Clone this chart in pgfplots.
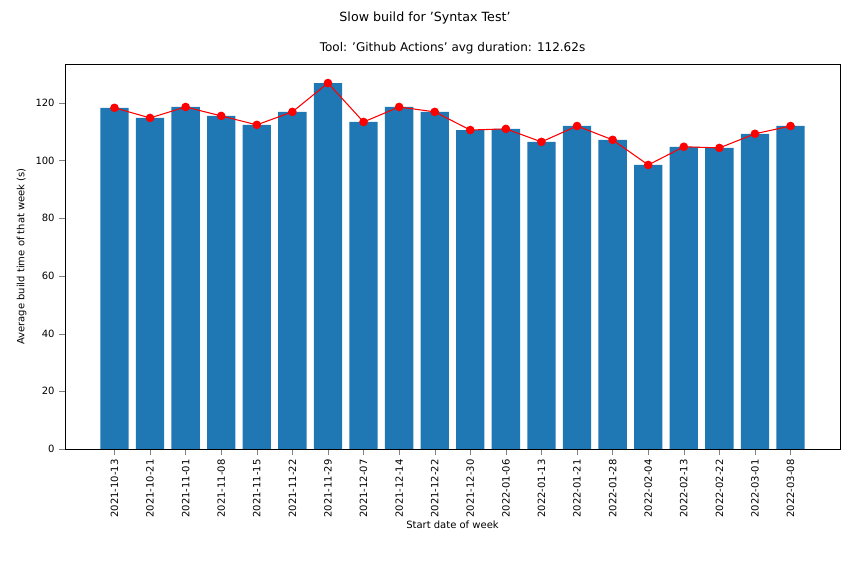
\documentclass[border=0pt]{standalone}
\usepackage{pgfplots}
\pgfplotsset{compat=1.18}
\usepackage{fontspec}
\setmainfont{DejaVu Sans}
\definecolor{mplblue}{HTML}{1F77B4}
\begin{document}
\begin{tikzpicture}
\path[use as bounding box] (-48.75pt,-86.25pt) rectangle (588.75pt,336.75pt);
\node[font=\fontsize{9.5}{11}\selectfont] at (270pt,323pt) {Slow build for 'Syntax Test'};
\begin{axis}[
  at={(0pt,0pt)}, anchor=south west,
  scale only axis, width=581.25pt, height=288.75pt,
  xmin=-1.39, xmax=20.39, ymin=0, ymax=133.5,
  xtick={0,...,19},
  xticklabels={2021-10-13,2021-10-21,2021-11-01,2021-11-08,2021-11-15,2021-11-22,2021-11-29,2021-12-07,2021-12-14,2021-12-22,2021-12-30,2022-01-06,2022-01-13,2022-01-21,2022-01-28,2022-02-04,2022-02-13,2022-02-22,2022-03-01,2022-03-08},
  x tick label style={rotate=90, anchor=east},
  ytick={0,20,...,120},
  tick label style={font=\fontsize{7.5}{9}\selectfont},
  label style={font=\fontsize{7.5}{9}\selectfont},
  /pgf/number format/assume math mode=true,
  title={Tool: 'Github Actions' avg duration: 112.62s},
  title style={font=\fontsize{9}{11}\selectfont, yshift=-2pt},
  xlabel={Start date of week},
  ylabel={Average build time of that week (s)},
  xlabel style={yshift=4pt},
  tick align=outside, tick pos=left,
]
\addplot[ybar, bar width=21.3pt, fill=mplblue, draw=none] coordinates {
(0,118.3)(1,114.8)(2,118.6)(3,115.5)(4,112.4)(5,116.9)(6,126.9)(7,113.4)(8,118.6)(9,116.9)
(10,110.6)(11,111.0)(12,106.5)(13,112.0)(14,107.2)(15,98.5)(16,104.8)(17,104.4)(18,109.3)(19,112.0)};
\addplot[red, thick, mark=*, mark size=2.8pt, mark options={fill=red}] coordinates {
(0,118.3)(1,114.8)(2,118.6)(3,115.5)(4,112.4)(5,116.9)(6,126.9)(7,113.4)(8,118.6)(9,116.9)
(10,110.6)(11,111.0)(12,106.5)(13,112.0)(14,107.2)(15,98.5)(16,104.8)(17,104.4)(18,109.3)(19,112.0)};
\end{axis}
\end{tikzpicture}
\end{document}
